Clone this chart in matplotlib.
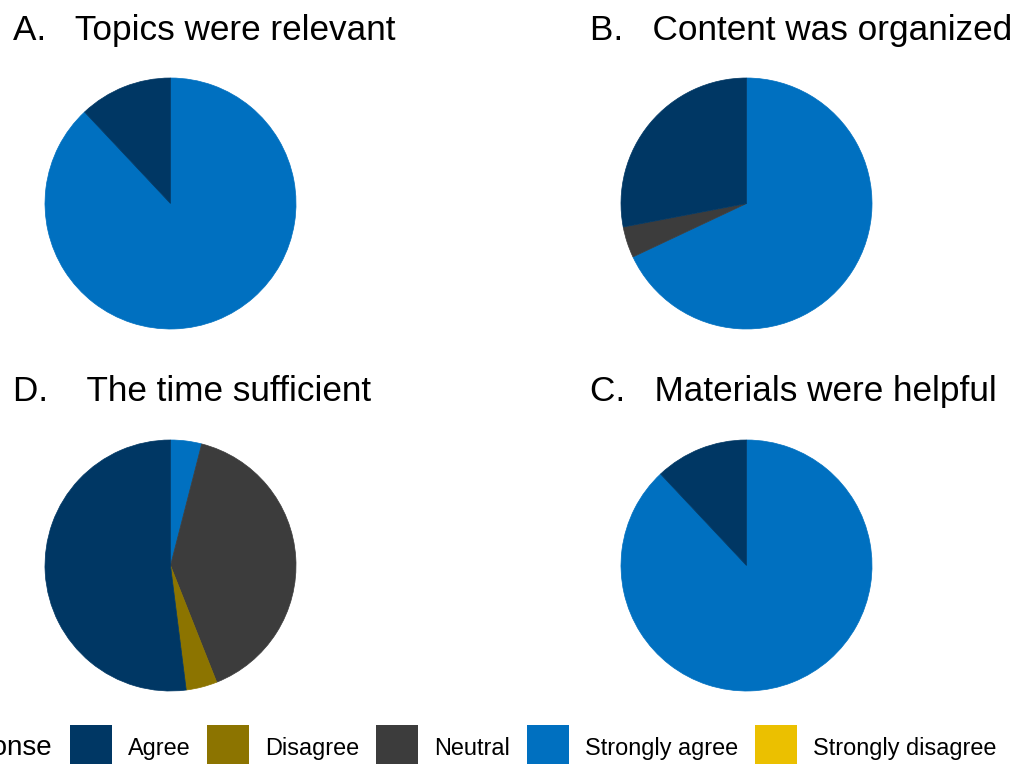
import matplotlib
matplotlib.use('Agg')
import matplotlib.pyplot as plt
from matplotlib.patches import Rectangle

plt.rcParams['font.family'] = ['Liberation Sans', 'DejaVu Sans']

# response counts per question (25 respondents)
levels = ['Agree', 'Disagree', 'Neutral', 'Strongly agree', 'Strongly disagree']
topics_relevant = [3, 0, 0, 22, 0]
content_organized = [7, 0, 1, 17, 0]
time_sufficient = [13, 1, 10, 1, 0]
materials_helpful = [3, 0, 0, 22, 0]

titles = ['A.   Topics were relevant', 'B.   Content was organized',
          'D.    The time sufficient', 'C.   Materials were helpful']

palette = {
    'Agree': '#003764',
    'Disagree': '#8C7400',
    'Neutral': '#3C3C3C',
    'Strongly agree': '#0070C0',
    'Strongly disagree': '#EBC000',
}

W, H = 1029, 764
fig = plt.figure(figsize=(W / 100, H / 100), dpi=100)


def pie_panel(counts, cx, cy, r):
    ax = fig.add_axes([(cx - r) / W, (H - cy - r) / H, 2 * r / W, 2 * r / H])
    # stacked like ggplot: last level starts at 12 o'clock, going clockwise
    pairs = [(lv, c) for lv, c in zip(levels, counts) if c > 0][::-1]
    wedges, _ = ax.pie([c for _, c in pairs], colors=[palette[lv] for lv, _ in pairs],
                       startangle=90, counterclock=False, radius=1)
    for w in wedges:
        w.set_edgecolor(w.get_facecolor())
        w.set_linewidth(0.5)
    ax.set_xlim(-1, 1)
    ax.set_ylim(-1, 1)
    ax.set_aspect('equal')
    ax.axis('off')
    return ax


panels = [
    (topics_relevant, 170.5, 203.5, 40),
    (content_organized, 746.5, 203.5, 40),
    (time_sufficient, 170.5, 565.5, 401),
    (materials_helpful, 746.5, 565.5, 401),
]
for (counts, cx, cy, base), title in zip(panels, titles):
    pie_panel(counts, cx, cy, 125.5)
    tx = 13 if cx < 500 else 590
    fig.text(tx / W, 1 - base / H, title, fontsize=25.3, va='baseline', ha='left')

# legend along the bottom edge
key_x = [70, 207, 376, 527, 755]
key_top, key_size = 725, 42
label_base = 755
fig.text(52 / W, 1 - label_base / H, 'Response', fontsize=20, ha='right', va='baseline')
for lv, kx in zip(levels, key_x):
    fig.add_artist(Rectangle((kx / W, 1 - (key_top + key_size) / H), key_size / W, key_size / H,
                             transform=fig.transFigure, facecolor=palette[lv], edgecolor='none'))
    fig.text((kx + key_size + 16) / W, 1 - label_base / H, lv, fontsize=16.9,
             ha='left', va='baseline')

fig.savefig('out.png', dpi=100, facecolor='white')
